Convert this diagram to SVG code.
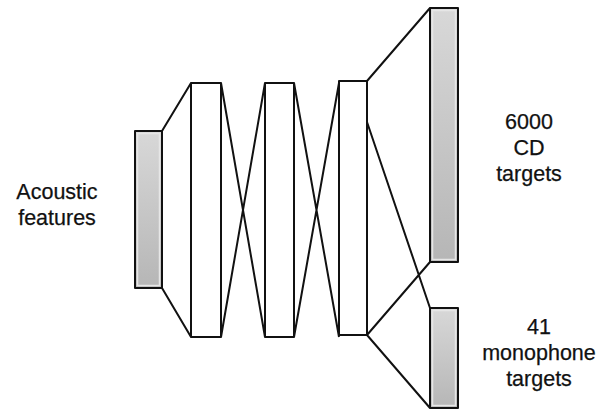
<svg xmlns="http://www.w3.org/2000/svg" width="603" height="412" viewBox="0 0 603 412">
<style>
.box{stroke:#111;stroke-width:2;stroke-linejoin:round}
.gray{fill:url(#g)}
.layer{fill:#fff}
.inner{fill:none;stroke:#e6e6e6;stroke-width:1.5}
.c{fill:none;stroke:#111;stroke-width:2}
text{font-family:"Liberation Sans",Arial,sans-serif;font-size:21.5px;fill:#111;stroke:#111;stroke-width:0.25;text-anchor:middle}
</style>
<defs>
<linearGradient id="g" x1="0" y1="0" x2="0" y2="1">
<stop offset="0" stop-color="#d8d8d8"/>
<stop offset="1" stop-color="#b6b6b6"/>
</linearGradient>
</defs>
<g id="connectors">
<path class="c" d="M162,131 L191,83 M162,288 L191,337"/>
<path class="c" d="M221,83 L265,337 M221,337 L265,83"/>
<path class="c" d="M294,83 L339,337 M294,337 L339,83"/>
<path class="c" d="M367,81 L430,8 M367,122 L430,308 M367,335 L430,262 M367,335 L430,408"/>
</g>
<g id="input"><rect class="box gray" x="135" y="131" width="27" height="157"/><rect class="inner" x="137.5" y="133.5" width="22" height="152"/></g>
<g id="hidden1"><rect class="box layer" x="191" y="83" width="30" height="254"/></g>
<g id="hidden2"><rect class="box layer" x="265" y="83" width="29" height="254"/></g>
<g id="hidden3"><rect class="box layer" x="339" y="81" width="28" height="254"/></g>
<g id="cd-output"><rect class="box gray" x="430" y="8" width="28" height="254"/><rect class="inner" x="432.5" y="10.5" width="23" height="249"/></g>
<g id="mono-output"><rect class="box gray" x="430" y="308" width="28" height="100"/><rect class="inner" x="432.5" y="310.5" width="23" height="95"/></g>
<g id="labels">
<text x="57" y="199">Acoustic</text>
<text x="57" y="225">features</text>
<text x="529" y="129">6000</text>
<text x="529" y="155">CD</text>
<text x="529" y="181">targets</text>
<text x="539" y="334">41</text>
<text x="539" y="360">monophone</text>
<text x="539" y="386">targets</text>
</g>
</svg>
